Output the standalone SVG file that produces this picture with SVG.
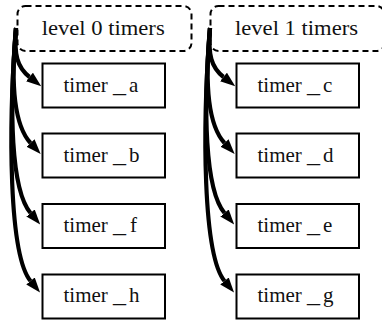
<svg xmlns="http://www.w3.org/2000/svg" width="382" height="322" viewBox="0 0 382 322">
<defs>
<style>
.lvl{fill:#fff;stroke:#000;stroke-width:2;stroke-dasharray:6,4}
.tm{fill:#fff;stroke:#000;stroke-width:2}
.t{font-family:'Liberation Serif','Times New Roman','DejaVu Serif',serif;font-size:21px;fill:#111}
.e{fill:none;stroke:#000;stroke-width:4.2;marker-end:url(#ah)}
</style>
<marker id="ah" viewBox="0 0 15 11" refX="0" refY="5.5" markerWidth="15" markerHeight="11" markerUnits="userSpaceOnUse" orient="auto">
<path d="M0,0 L15,5.5 L0,11 z" fill="#000"/>
</marker>
</defs>
<rect width="382" height="322" fill="#fff"/>
<g id="level0"><rect class="lvl" x="17.5" y="6" width="174" height="45" rx="8"/><text class="t" x="41.7" y="35" textLength="123" lengthAdjust="spacingAndGlyphs">level 0 timers</text></g>
<g id="level1"><rect class="lvl" x="210.5" y="6" width="174" height="45" rx="8"/><text class="t" x="235" y="35" textLength="123" lengthAdjust="spacingAndGlyphs">level 1 timers</text></g>
<g id="timer_a"><rect class="tm" x="42.5" y="63.5" width="122.5" height="44"/><text class="t" y="91.7"><tspan x="63.5">timer</tspan><tspan x="113" textLength="13" lengthAdjust="spacingAndGlyphs">_</tspan><tspan x="129">a</tspan></text></g>
<g id="timer_b"><rect class="tm" x="42.5" y="133.5" width="122.5" height="44"/><text class="t" y="161.7"><tspan x="63.5">timer</tspan><tspan x="113" textLength="13" lengthAdjust="spacingAndGlyphs">_</tspan><tspan x="129">b</tspan></text></g>
<g id="timer_f"><rect class="tm" x="42.5" y="204" width="122.5" height="44"/><text class="t" y="232.2"><tspan x="63.5">timer</tspan><tspan x="113" textLength="13" lengthAdjust="spacingAndGlyphs">_</tspan><tspan x="130">f</tspan></text></g>
<g id="timer_h"><rect class="tm" x="42.5" y="274.5" width="122.5" height="44"/><text class="t" y="302.2"><tspan x="63.5">timer</tspan><tspan x="113" textLength="13" lengthAdjust="spacingAndGlyphs">_</tspan><tspan x="129">h</tspan></text></g>
<g id="timer_c"><rect class="tm" x="236.5" y="63.5" width="122.5" height="44"/><text class="t" y="91.7"><tspan x="257.5">timer</tspan><tspan x="307" textLength="13" lengthAdjust="spacingAndGlyphs">_</tspan><tspan x="323">c</tspan></text></g>
<g id="timer_d"><rect class="tm" x="236.5" y="133.5" width="122.5" height="44"/><text class="t" y="161.7"><tspan x="257.5">timer</tspan><tspan x="307" textLength="13" lengthAdjust="spacingAndGlyphs">_</tspan><tspan x="323">d</tspan></text></g>
<g id="timer_e"><rect class="tm" x="236.5" y="204" width="122.5" height="44"/><text class="t" y="232.2"><tspan x="257.5">timer</tspan><tspan x="307" textLength="13" lengthAdjust="spacingAndGlyphs">_</tspan><tspan x="323">e</tspan></text></g>
<g id="timer_g"><rect class="tm" x="236.5" y="274.5" width="122.5" height="44"/><text class="t" y="302.2"><tspan x="257.5">timer</tspan><tspan x="307" textLength="13" lengthAdjust="spacingAndGlyphs">_</tspan><tspan x="323">g</tspan></text></g>
<g id="connectors">
<path class="e" d="M16,28 C14,55 17,67 29.5,77"/>
<path class="e" d="M16,28 C11,80 13,124 30.5,143"/>
<path class="e" d="M16,28 C9,110 11,190 30.5,213"/>
<path class="e" d="M16,28 C8,130 9,255 30.5,281"/>
<path class="e" d="M210,28 C208,55 211,67 223.5,77"/>
<path class="e" d="M210,28 C205,80 207,124 224.5,143"/>
<path class="e" d="M210,28 C203,110 205,190 224.5,213"/>
<path class="e" d="M210,28 C202,130 203,255 224.5,281"/>
</g>
</svg>
